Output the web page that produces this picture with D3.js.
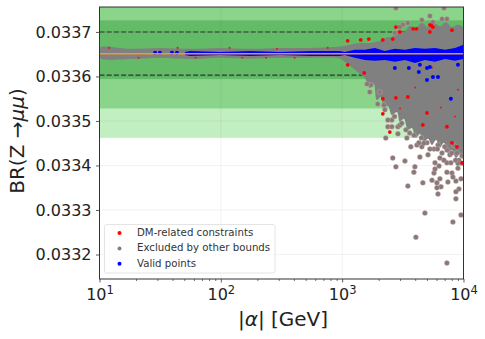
<!DOCTYPE html>
<html><head><meta charset="utf-8">
<script src="https://cdnjs.cloudflare.com/ajax/libs/d3/7.8.5/d3.min.js"></script>
<style>html,body{margin:0;padding:0;background:#fff}svg{display:block}text{font-family:"DejaVu Sans",sans-serif}</style>
</head><body><svg id="c" width="485" height="339"></svg>
<script>
const yTicks=[0.0332,0.0333,0.0334,0.0335,0.0336,0.0337];
const yTickLabels=["0.0332","0.0333","0.0334","0.0335","0.0336","0.0337"];
const xTicks=[10,100,1000,10000];
const xExponents=["1","2","3","4"];
const legendLabels=["DM-related constraints","Excluded by other bounds","Valid points"];
const legendColors=["#ff0000","#808080","#0000ff"];
const expCentre=0.03366, expSigma=0.000066, smCentre=0.033651;
const dashLevels=[0.0337,0.033603];

// dense gray cloud, upper and lower edges: alpha, BR
const cloudUpperEdge=[[10,0.033664],[17.8,0.033662],[31.5,0.033664],[55.8,0.033662],[98.7,0.033664],[175,0.033662],[308,0.033664],[545,0.033664],[960,0.033667],[1153,0.033671],[1395,0.033675],[1688,0.033675],[2041,0.03368],[2288,0.033687],[2565,0.033689],[2880,0.033702],[3225,0.0337],[3612,0.033713],[4050,0.033709],[4535,0.03372],[5100,0.033711],[5710,0.03372],[6390,0.033713],[7150,0.033722],[8030,0.033711],[9000,0.033716],[10000,0.033709]];
const cloudLowerEdge=[[10,0.033642],[17.8,0.033639],[31.5,0.033642],[55.8,0.033639],[98.7,0.033642],[175,0.03364],[308,0.033642],[545,0.033642],[960,0.03364],[1049,0.033633],[1153,0.033624],[1269,0.033615],[1395,0.033606],[1535,0.033597],[1688,0.033574],[1822,0.033583],[1930,0.033547],[2083,0.033554],[2206,0.033529],[2380,0.033534],[2565,0.033513],[2825,0.03352],[2987,0.033498],[3225,0.033505],[3478,0.03348],[3755,0.033484],[4050,0.033462],[4370,0.033471],[4715,0.033453],[5100,0.03346],[5500,0.033446],[5940,0.033457],[6390,0.03344],[6900,0.033451],[7440,0.033428],[8030,0.033435],[8660,0.033417],[9353,0.033426],[10000,0.033412]];
// dense blue core
const blueAlpha=[50.6,55.8,98.7,175,308,545,960,1049,1269,1535,1858,2247,2718,3290,3975,4810,5820,7040,8510,10000];
const blueUpper=[0.033655,0.033657,0.033655,0.033657,0.033655,0.033657,0.033657,0.033655,0.03366,0.03366,0.033664,0.033657,0.033662,0.03366,0.033664,0.033662,0.033664,0.03366,0.033664,0.033671];
const blueLower=[0.033648,0.033646,0.033648,0.033646,0.033648,0.033646,0.033646,0.033648,0.033642,0.033637,0.033635,0.033637,0.033633,0.033637,0.03363,0.033637,0.033633,0.033639,0.033635,0.033639];

const grayPoints=[[2772,0.033754],[5285,0.033736],[4535,0.033727],[5600,0.033722],[6650,0.033729],[6900,0.033754],[7300,0.033729],[3478,0.03372],[3163,0.033716],[2987,0.033711],[2718,0.033698],
[2613,0.033417],[3290,0.03341],[2772,0.033397],[3975,0.033397],[3900,0.033385],[3478,0.033354],[4625,0.033361],[5500,0.033367],[6040,0.033361],[6390,0.03337],[6520,0.033352],[6040,0.03335],[6160,0.033336],[7440,0.033363],[8660,0.033365],[9540,0.03337],[8030,0.033383],[5710,0.033383],[6280,0.033399],[5820,0.033406],[6390,0.033417],[7300,0.033406],[7870,0.033406],[9000,0.033394],[8180,0.033374],[9170,0.033347],[8660,0.033341],[8660,0.033325],[4370,0.033419],[5100,0.033424],[3680,0.033442],[4535,0.033442],[5710,0.033437],[4130,0.033446],[7300,0.033435],[8820,0.033428],[2288,0.033462],[3415,0.033462],[2880,0.033471],[2380,0.033487],[2565,0.033502],[2880,0.033487],
[4810,0.033293],[9540,0.033289],[8180,0.033273],[4050,0.033239],[7300,0.033181],
[5000,0.033451],[6160,0.033446],[6650,0.033428],[7730,0.033424],[9170,0.033412],[9730,0.033405],[8340,0.033446],[5285,0.033437],[6900,0.033412],[7300,0.033385],[5820,0.033392],[4285,0.033451],
[2380,0.033502],[2565,0.033487],[2206,0.033536],[2041,0.033565],[1965,0.033538],[1688,0.033565],[1725,0.033581],[1600,0.033583],[3000,0.033491],[3600,0.033473],[4500,0.033462],[9000,0.033405],[9700,0.033422],
[2250,0.033525],[2700,0.03351],[3100,0.033495],[3350,0.03348],[3900,0.033468],[4700,0.03345],[6100,0.033437],[7000,0.033442],[8000,0.033428],[8600,0.033412]];
const redPoints=[[2772,0.033711],[3850,0.033707],[4100,0.033707],[5285,0.033716],[5450,0.033714],[5600,0.033711],[1110,0.03368],[1422,0.033682],[1657,0.033684],[2162,0.033682],[2613,0.033684],[2987,0.0337],[5285,0.0337],[8030,0.033704],[2162,0.03355],[1110,0.033626],[1520,0.033608],[3478,0.033554],[2772,0.033552],[2162,0.033516],[2470,0.033475],[5000,0.033518],[4625,0.033491],[7300,0.033487],[8030,0.033451],[8820,0.033442],[9730,0.033406]];
const faintRedPoints=[[12,0.033664],[21,0.033642],[44,0.033664],[62,0.033642],[118,0.033664],[150,0.033642],[236,0.033642],[290,0.033662],[405,0.033642],[760,0.033664],[3000,0.033528],[4000,0.033575],[6500,0.03353],[8500,0.03351],[5500,0.03362],[9000,0.03357]];
const bluePoints=[[2718,0.033619],[3545,0.033619],[4285,0.03361],[5000,0.033619],[5285,0.033621],[4370,0.033626],[5000,0.033592],[5600,0.033599],[6160,0.033599],[9000,0.033626],[7870,0.03355],[28.7,0.033653],[31.5,0.033653],[39.5,0.033653],[43.5,0.033653]];

const L=99.5,R=463.5,T=7,B=279;
const x=d3.scaleLog().domain([10,10000]).range([L,R]);
const y=d3.scaleLinear().domain([0.033145,0.033756]).range([B,T]);
const svg=d3.select("#c");

svg.append("defs").append("clipPath").attr("id","pl").append("rect").attr("x",L).attr("y",T).attr("width",R-L).attr("height",B-T);
const g=svg.append("g").attr("clip-path","url(#pl)");

const bands=[[3,"#c2efc2"],[2,"#8bd58b"],[1,"#63bb68"]];
g.selectAll(".band").data(bands).join("rect").attr("class","band")
 .attr("x",L).attr("width",R-L)
 .attr("y",d=>y(expCentre+d[0]*expSigma))
 .attr("height",d=>y(expCentre-d[0]*expSigma)-y(expCentre+d[0]*expSigma))
 .attr("fill",d=>d[1]);

g.selectAll(".gy").data(yTicks).join("line").attr("x1",L).attr("x2",R).attr("y1",d=>y(d)).attr("y2",d=>y(d)).attr("stroke","#000").attr("stroke-opacity",0.05);
g.selectAll(".gx").data(xTicks).join("line").attr("y1",T).attr("y2",B).attr("x1",d=>x(d)).attr("x2",d=>x(d)).attr("stroke","#000").attr("stroke-opacity",0.05);

g.selectAll(".dash").data(dashLevels).join("line").attr("x1",L).attr("x2",R).attr("y1",d=>y(d)).attr("y2",d=>y(d))
 .attr("stroke","#333").attr("stroke-width",1.1).attr("stroke-dasharray","5 2.2");

const edgeLine=d3.line().x(d=>x(d[0])).y(d=>y(d[1])).curve(d3.curveCatmullRomClosed);
g.append("path").attr("d",edgeLine(cloudUpperEdge.concat(cloudLowerEdge.slice().reverse()))).attr("fill","#808080");
g.selectAll(".gp").data(grayPoints).join("circle").attr("cx",d=>x(d[0])).attr("cy",d=>y(d[1])).attr("r",2.5)
 .attr("fill","#857a7a").attr("stroke","#d9a8a8").attr("stroke-width",0.4);
g.selectAll(".fr").data(faintRedPoints).join("circle").attr("cx",d=>x(d[0])).attr("cy",d=>y(d[1])).attr("r",1.1).attr("fill","#e02020");
g.selectAll(".rp").data(redPoints).join("circle").attr("cx",d=>x(d[0])).attr("cy",d=>y(d[1])).attr("r",1.9).attr("fill","#ff0000");
g.append("path").attr("d",d3.area().x(d=>x(d)).y0((d,i)=>y(blueLower[i])).y1((d,i)=>y(blueUpper[i]))(blueAlpha)).attr("fill","#0000ff");
g.selectAll(".bp").data(bluePoints).join("circle").attr("cx",d=>x(d[0])).attr("cy",d=>y(d[1])).attr("r",2).attr("fill","#0000ff");
g.append("line").attr("x1",L).attr("x2",R).attr("y1",y(smCentre)).attr("y2",y(smCentre)).attr("stroke","#ee9a2e").attr("stroke-width",1.6);

const minor=[];xTicks.slice(0,3).forEach(t=>{for(let k=2;k<10;k++)minor.push(t*k)});
svg.append("g").attr("transform",`translate(0,${B})`).call(d3.axisBottom(x).tickValues(minor).tickSize(2).tickFormat("")).call(a=>a.select(".domain").remove()).selectAll("line").attr("stroke","#333").attr("stroke-width",0.7);
const ax=svg.append("g").attr("transform",`translate(0,${B})`).call(d3.axisBottom(x).tickValues(xTicks).tickSize(3.5).tickFormat(""));
ax.selectAll(".tick").each(function(d,i){
  const t=d3.select(this).append("text").attr("y",21).attr("fill","#222").attr("text-anchor","middle").attr("font-size",16);
  t.append("tspan").text("10");
  t.append("tspan").attr("dy",-6).attr("font-size",11.5).text(xExponents[i]);
});
const ay=svg.append("g").attr("transform",`translate(${L},0)`).call(d3.axisLeft(y).tickValues(yTicks).tickSize(3.5).tickFormat((d,i)=>yTickLabels[i]));
ay.selectAll("text").attr("font-size",16).attr("fill","#222").attr("x",-8);
[ax,ay].forEach(a=>{a.select(".domain").remove();a.selectAll("line").attr("stroke","#333").attr("stroke-width",0.8)});
svg.append("rect").attr("x",L).attr("y",T).attr("width",R-L).attr("height",B-T).attr("fill","none").attr("stroke","#333").attr("stroke-width",1);

const lg=svg.append("g");
lg.append("rect").attr("x",104.5).attr("y",224.5).attr("width",170.5).attr("height",48.5).attr("rx",2).attr("fill","#fff").attr("fill-opacity",0.85).attr("stroke","#ddd").attr("stroke-width",0.8);
legendLabels.forEach((s,i)=>{
  const yy=232.8+i*15.3;
  lg.append("circle").attr("cx",119.5).attr("cy",yy+0.3).attr("r",2).attr("fill",legendColors[i]);
  lg.append("text").attr("x",137).attr("y",yy+3.2).attr("font-size",10.2).attr("fill","#333").text(s);
});

const xl=svg.append("text").attr("x",283).attr("y",326).attr("text-anchor","middle").attr("font-size",20).attr("fill","#222");
xl.append("tspan").text("|");xl.append("tspan").attr("font-style","italic").text("α");xl.append("tspan").text("| [GeV]");
const yl=svg.append("text").attr("transform","translate(24,141) rotate(-90)").attr("text-anchor","middle").attr("font-size",20).attr("fill","#222");
yl.append("tspan").text("BR(Z \u2192");yl.append("tspan").attr("font-style","italic").text("μμ");yl.append("tspan").text(")");
</script></body></html>
